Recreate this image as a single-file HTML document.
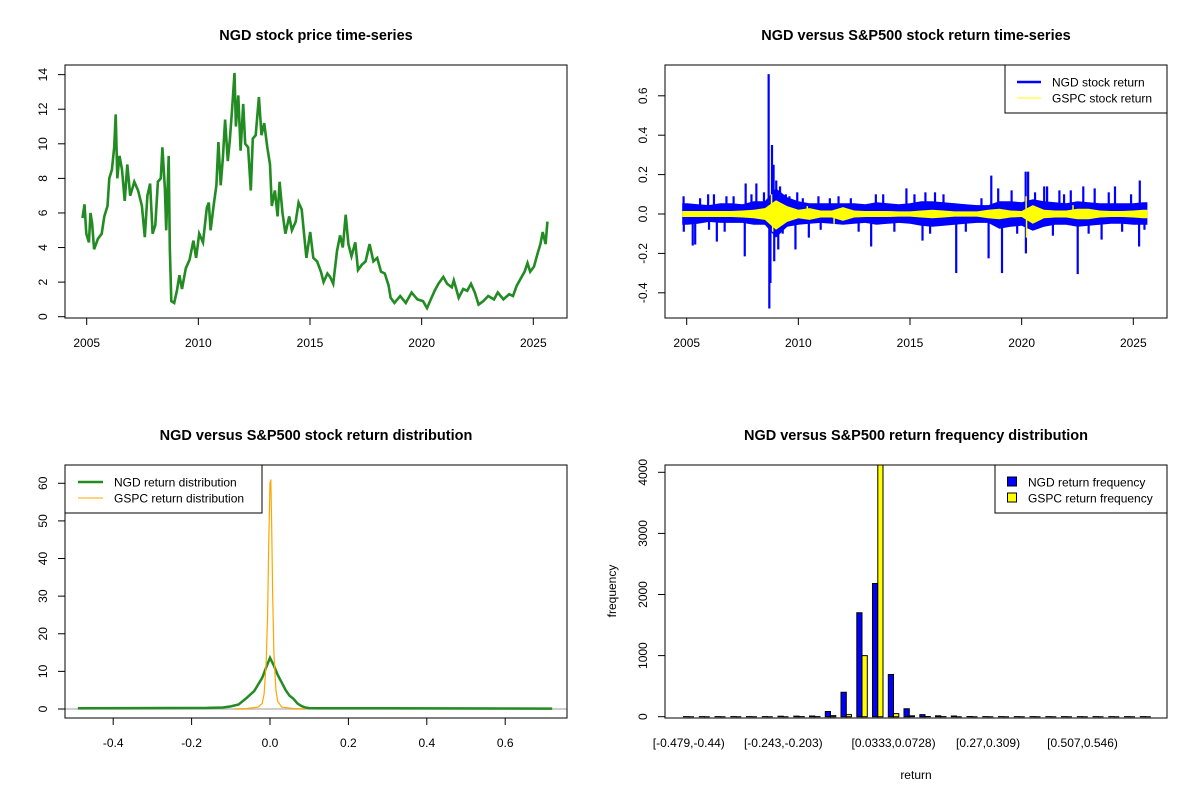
<!DOCTYPE html>
<html><head><meta charset="utf-8">
<style>
html,body{margin:0;padding:0;background:#fff;}
svg{display:block;font-family:"Liberation Sans",Arial,sans-serif;}
</style></head>
<body>
<svg id="chart" width="1200" height="800" viewBox="0 0 1200 800">
<rect x="0" y="0" width="1200" height="800" fill="#fff"/>
<defs>
<clipPath id="c1"><rect x="65" y="65" width="502" height="253"/></clipPath>
<clipPath id="c2"><rect x="665" y="65" width="502" height="253"/></clipPath>
<clipPath id="c3"><rect x="65" y="465" width="502" height="253"/></clipPath>
<clipPath id="c4"><rect x="665" y="465" width="502" height="253"/></clipPath>
</defs>
<g id="root"></g>
</svg>
<script>
// ---------- data ----------
const priceYears=[2004.81,2004.9,2004.98,2005.1,2005.17,2005.24,2005.33,2005.5,2005.67,2005.79,2005.93,2006.01,2006.13,2006.23,2006.3,2006.37,2006.47,2006.58,2006.7,2006.82,2006.95,2007.13,2007.3,2007.47,2007.6,2007.72,2007.84,2007.95,2008.07,2008.19,2008.32,2008.39,2008.5,2008.56,2008.67,2008.72,2008.79,2008.92,2009.04,2009.15,2009.27,2009.44,2009.61,2009.78,2009.9,2010.04,2010.21,2010.38,2010.47,2010.55,2010.69,2010.81,2010.9,2011.0,2011.1,2011.2,2011.32,2011.41,2011.51,2011.62,2011.68,2011.79,2011.89,2012.01,2012.1,2012.23,2012.35,2012.44,2012.57,2012.71,2012.83,2012.95,2013.09,2013.21,2013.29,2013.43,2013.55,2013.64,2013.77,2013.9,2014.07,2014.19,2014.36,2014.49,2014.63,2014.75,2014.84,2015.01,2015.15,2015.32,2015.49,2015.61,2015.78,2015.9,2016.04,2016.21,2016.35,2016.47,2016.6,2016.72,2016.86,2017.03,2017.15,2017.32,2017.49,2017.67,2017.84,2018.01,2018.18,2018.35,2018.52,2018.61,2018.78,2019.04,2019.29,2019.55,2019.81,2020.06,2020.24,2020.41,2020.58,2020.75,2020.97,2021.14,2021.35,2021.44,2021.66,2021.86,2022.04,2022.21,2022.38,2022.55,2022.76,2022.98,2023.24,2023.41,2023.66,2023.92,2024.09,2024.26,2024.43,2024.61,2024.74,2024.86,2025.03,2025.2,2025.32,2025.42,2025.55,2025.63];
const priceValues=[5.7,6.5,4.8,4.3,6.0,5.4,3.9,4.5,4.8,5.8,6.4,8.0,8.5,9.8,11.7,8.0,9.3,8.5,6.7,8.8,7.0,7.8,7.3,6.4,4.6,7.0,7.7,4.8,5.3,7.8,8.0,9.8,7.4,5.0,9.3,4.0,0.9,0.8,1.5,2.4,1.6,2.8,3.3,4.4,3.4,4.8,4.3,6.3,6.6,5.0,6.5,7.6,10.1,7.6,9.2,11.4,9.0,10.2,12.0,14.1,11.0,12.8,9.6,12.3,10.0,9.8,7.3,10.3,10.5,12.7,10.5,11.2,9.8,8.8,6.4,7.3,5.8,7.8,6.0,4.8,5.8,5.0,5.5,6.6,6.2,4.6,3.4,4.9,3.4,3.2,2.6,2.0,2.5,2.3,1.9,3.8,4.7,4.0,5.9,4.2,3.5,4.3,2.7,3.0,3.2,4.2,3.2,3.4,2.6,2.5,1.8,1.1,0.8,1.2,0.8,1.4,1.0,0.9,0.5,1.0,1.5,1.9,2.3,1.9,1.7,2.1,1.1,1.6,1.5,1.9,1.4,0.7,0.9,1.2,1.0,1.4,1.0,1.3,1.2,1.8,2.2,2.6,3.1,2.6,2.9,3.7,4.2,4.9,4.2,5.5];
const yearTicks=[2005,2010,2015,2020,2025];
const priceTicks=[0,2,4,6,8,10,12,14];

const retBucketStart=[2004.8,2005.25,2005.75,2006.25,2006.75,2007.25,2007.75,2008.25,2008.75,2009.25,2009.75,2010.25,2010.75,2011.25,2011.75,2012.25,2012.75,2013.25,2013.75,2014.25,2014.75,2015.25,2015.75,2016.25,2016.75,2017.25,2017.75,2018.25,2018.75,2019.25,2019.75,2020.25,2020.75,2021.25,2021.75,2022.25,2022.75,2023.25,2023.75,2024.25,2024.75,2025.25];
const retEnd=2025.63;
const ngdHi=[.055,.05,.045,.055,.055,.05,.065,.065,.13,.085,.065,.055,.055,.055,.055,.055,.05,.06,.055,.05,.055,.065,.065,.06,.055,.05,.045,.045,.065,.065,.06,.075,.065,.06,.055,.065,.06,.055,.055,.055,.055,.06];
const ngdLo=[-.055,-.05,-.04,-.045,-.045,-.045,-.055,-.055,-.12,-.065,-.055,-.05,-.045,-.05,-.055,-.05,-.045,-.055,-.05,-.045,-.05,-.06,-.065,-.06,-.055,-.05,-.045,-.045,-.075,-.065,-.06,-.085,-.065,-.055,-.055,-.065,-.06,-.055,-.05,-.05,-.055,-.055];
const gspcHi=[.015,.015,.015,.015,.015,.018,.022,.03,.07,.04,.022,.03,.018,.018,.035,.018,.015,.015,.015,.013,.013,.018,.022,.018,.013,.013,.013,.022,.027,.018,.015,.045,.022,.018,.018,.027,.027,.018,.015,.015,.018,.022];
const gspcLo=[-.015,-.015,-.015,-.015,-.015,-.018,-.022,-.03,-.08,-.04,-.022,-.03,-.018,-.018,-.035,-.018,-.015,-.015,-.015,-.013,-.013,-.018,-.022,-.018,-.013,-.013,-.013,-.022,-.027,-.018,-.015,-.05,-.022,-.018,-.018,-.027,-.027,-.018,-.015,-.015,-.018,-.022];
const ngdSpikeYears=[2004.86,2004.87,2005.27,2005.38,2005.96,2006.22,2006.35,2006.70,2006.78,2007.60,2007.64,2008.12,2008.46,2008.67,2008.70,2008.75,2008.82,2008.89,2008.92,2009.01,2009.10,2009.18,2009.44,2009.87,2009.95,2010.47,2010.90,2011.41,2012.35,2013.26,2013.47,2014.84,2015.56,2015.69,2016.12,2017.07,2018.52,2018.64,2018.95,2019.12,2019.55,2020.18,2020.19,2020.29,2021.01,2021.14,2021.69,2022.51,2022.76,2023.27,2023.58,2024.18,2025.26,2025.29,2005.6,2006.0,2007.1,2007.9,2009.3,2009.6,2010.2,2011.0,2011.8,2012.7,2013.8,2014.3,2015.2,2015.9,2016.5,2017.5,2018.2,2019.8,2020.6,2021.4,2021.9,2022.2,2023.0,2023.9,2024.5,2024.9,2025.5];
const ngdSpikeValues=[0.09,-0.09,-0.16,-0.155,0.1,0.1,-0.14,-0.09,0.09,-0.215,0.155,0.155,0.11,0.71,-0.48,-0.35,0.35,0.25,-0.24,0.17,-0.18,0.14,0.1,-0.18,0.11,-0.12,0.09,0.08,0.08,-0.165,0.1,0.13,-0.135,0.11,0.11,-0.3,-0.225,0.195,0.13,-0.3,0.12,0.215,-0.2,0.215,0.14,0.14,0.12,-0.305,0.14,0.13,-0.13,0.14,-0.165,0.17,0.08,-0.08,0.09,0.1,-0.1,0.09,0.08,-0.08,0.09,-0.09,0.1,-0.09,0.1,-0.1,0.1,-0.09,0.08,-0.1,0.11,-0.11,0.1,0.12,-0.1,0.11,-0.09,0.1,-0.08];
const gspcSpikeYears=[2008.8,2008.85,2009.0,2010.4,2011.6,2020.2,2020.22,2022.3];
const gspcSpikeValues=[0.1,-0.09,0.06,0.04,-0.05,0.09,-0.12,0.045];
const retTicks=[-0.4,-0.2,0.0,0.2,0.4,0.6];
const retTickLabels=["-0.4","-0.2","0.0","0.2","0.4","0.6"];

const ngdDensX=[-0.49,-0.16,-0.12,-0.1,-0.08,-0.06,-0.04,-0.02,-0.01,0,0.01,0.02,0.03,0.04,0.05,0.06,0.07,0.08,0.09,0.1,0.14,0.72];
const ngdDensY=[0.2,0.3,0.4,0.7,1.2,2.9,4.8,8.3,11,13.6,11.5,9,7,5,3.5,2.7,1.5,0.8,0.4,0.25,0.2,0.1];
const gspcDensX=[-0.09,-0.06,-0.03,-0.02,-0.015,-0.01,-0.006,-0.003,0,0.002,0.004,0.007,0.01,0.015,0.02,0.03,0.06,0.09];
const gspcDensY=[0,0.1,0.5,1.5,4,12,25,45,60,61,50,30,15,5,2,0.5,0.1,0];
const densXTicks=[-0.4,-0.2,0.0,0.2,0.4,0.6];
const densXTickLabels=["-0.4","-0.2","0.0","0.2","0.4","0.6"];
const densYTicks=[0,10,20,30,40,50,60];

const binLabels=["[-0.479,-0.44)","[-0.243,-0.203)","[0.0333,0.0728)","[0.27,0.309)","[0.507,0.546)"];
const binLabelIndex=[0,6,13,19,25];
const ngdFreq=[1,1,1,1,1,2,8,10,12,85,400,1700,2180,690,130,35,15,12,3,2,1,1,1,1,1,1,1,1,1,1];
const gspcFreq=[0,0,0,0,0,0,0,1,2,18,35,1000,4130,50,15,3,1,0,0,0,0,0,0,0,0,0,0,0,0,0];
const freqTicks=[0,1000,2000,3000,4000];

// ---------- scales ----------
const yearX=(y,l)=>l+21.7+(y-2005)*22.33;
const priceY=v=>316.7-v*17.29;
const retY=v=>214-v*197;
const densX=v=>270+v*392;
const densY=v=>709-v*3.762;
const barX=u=>688.8+(u-2)*5.25;
const barY=c=>716.7-c*0.0611;

const NS="http://www.w3.org/2000/svg";
const root=document.getElementById('root');
function mk(tag,attrs,parent){const e=document.createElementNS(NS,tag);for(const k in attrs)e.setAttribute(k,attrs[k]);(parent||root).appendChild(e);return e;}
function txt(s,x,y,size,anchor,parent,rot,bold){const e=mk('text',{x:x,y:y,'font-size':size,'text-anchor':anchor||'middle',fill:'#000'},parent);if(bold)e.setAttribute('font-weight','bold');if(rot)e.setAttribute('transform','rotate(-90 '+x+' '+y+')');e.textContent=s;return e;}

const panels=[{l:65,r:567,t:65,b:318},{l:665,r:1167,t:65,b:318},{l:65,r:567,t:465,b:718},{l:665,r:1167,t:465,b:718}];
const titles=["NGD stock price time-series","NGD versus S&P500 stock return time-series","NGD versus S&P500 stock return distribution","NGD versus S&P500 return frequency distribution"];
const gs=[];
panels.forEach((p,i)=>{
  const g=mk('g',{});
  
  
  gs.push(g);
  const t=txt(titles[i],(p.l+p.r)/2,p.t-25,14.5,'middle',g,false,true);
  
  
});

function xAxis(g,p,vals,labels,fx){
  const a=mk('g',{},g);
  
  
  const x0=fx(vals[0]),x1=fx(vals[vals.length-1]);
  mk('line',{x1:x0,x2:x1,y1:p.b,y2:p.b,stroke:'#000','stroke-width':1},a);
  vals.forEach((v,i)=>{const x=fx(v);
    mk('line',{x1:x,x2:x,y1:p.b,y2:p.b+7,stroke:'#000'},a);
    const t=txt(labels[i],x,p.b+29,12,'middle',a);
    
    
  });
}
function yAxis(g,p,vals,labels,fy){
  const a=mk('g',{},g);
  
  
  const y0=fy(vals[0]),y1=fy(vals[vals.length-1]);
  mk('line',{x1:p.l,x2:p.l,y1:y0,y2:y1,stroke:'#000'},a);
  vals.forEach((v,i)=>{const y=fy(v);
    mk('line',{x1:p.l-7,x2:p.l,y1:y,y2:y,stroke:'#000'},a);
    const t=txt(labels[i],p.l-18,y,12,'middle',a,true);
    
    
  });
}
function box(g,p){const b=mk('rect',{x:p.l,y:p.t,width:p.r-p.l,height:p.b-p.t,fill:'none',stroke:'#000','stroke-width':1},g);
  
  }

// ---------- panel 1: price ----------
{const g=gs[0],p=panels[0];
 const pts=priceYears.map((y,i)=>yearX(y,p.l).toFixed(1)+','+priceY(priceValues[i]).toFixed(1)).join(' ');
 const l=mk('polyline',{points:pts,fill:'none',stroke:'#228B22','stroke-width':2.6,'stroke-linejoin':'miter','clip-path':'url(#c1)'},g);
 
 
 xAxis(g,p,yearTicks,yearTicks.map(String),y=>yearX(y,p.l));
 yAxis(g,p,priceTicks,priceTicks.map(String),priceY);
 box(g,p);}

// ---------- panel 2: returns ----------
{const g=gs[1],p=panels[1];
 const cg=mk('g',{'clip-path':'url(#c2)'},g);
 function band(hi,lo,col,name){
   const mids=retBucketStart.map((s,i)=>{const e=i+1<retBucketStart.length?retBucketStart[i+1]:retEnd;return (s+e)/2;});
   const top=[],bot=[];
   top.push(yearX(retBucketStart[0],p.l).toFixed(1)+','+retY(hi[0]).toFixed(1));
   mids.forEach((m,i)=>top.push(yearX(m,p.l).toFixed(1)+','+retY(hi[i]).toFixed(1)));
   top.push(yearX(retEnd,p.l).toFixed(1)+','+retY(hi[hi.length-1]).toFixed(1));
   bot.push(yearX(retEnd,p.l).toFixed(1)+','+retY(lo[lo.length-1]).toFixed(1));
   for(let i=mids.length-1;i>=0;i--)bot.push(yearX(mids[i],p.l).toFixed(1)+','+retY(lo[i]).toFixed(1));
   bot.push(yearX(retBucketStart[0],p.l).toFixed(1)+','+retY(lo[0]).toFixed(1));
   const r=mk('polygon',{points:top.concat(bot).join(' '),fill:col},cg);
   
   
 }
 function spikes(ys,vs,col,w,name){
   ys.forEach((y,i)=>{const x=yearX(y,p.l);
     const s=mk('line',{x1:x,x2:x,y1:retY(0),y2:retY(vs[i]),stroke:col,'stroke-width':w},cg);
     
     });
 }
 band(ngdHi,ngdLo,'#0000FF','ngd-return-band');
 spikes(ngdSpikeYears,ngdSpikeValues,'#0000FF',2.2,'ngd-return-spike');
 band(gspcHi,gspcLo,'#FFFF00','gspc-return-band');
 spikes(gspcSpikeYears,gspcSpikeValues,'#FFFF00',1.5,'gspc-return-spike');
 xAxis(g,p,yearTicks,yearTicks.map(String),y=>yearX(y,p.l));
 yAxis(g,p,retTicks,retTickLabels,retY);
 box(g,p);
 const lg=mk('g',{},g);
 
 
 mk('rect',{x:1005,y:65,width:162,height:48,fill:'#fff',stroke:'#000'},lg);
 mk('line',{x1:1017,x2:1041,y1:82,y2:82,stroke:'#0000FF','stroke-width':2.5},lg);
 mk('line',{x1:1017,x2:1041,y1:98,y2:98,stroke:'#FFFF00','stroke-width':1},lg);
 const t1=txt('NGD stock return',1052,86.5,12,'start',lg);
 
 
 const t2=txt('GSPC stock return',1052,102.5,12,'start',lg);
 
 }

// ---------- panel 3: density ----------
{const g=gs[2],p=panels[2];
 const cg=mk('g',{'clip-path':'url(#c3)'},g);
 const ab=mk('line',{x1:p.l,x2:p.r,y1:densY(0),y2:densY(0),stroke:'#bebebe','stroke-width':1.5},cg);
 
 
 const p1=mk('polyline',{points:ngdDensX.map((x,i)=>densX(x).toFixed(1)+','+densY(ngdDensY[i]).toFixed(1)).join(' '),fill:'none',stroke:'#228B22','stroke-width':2.5},cg);
 
 
 const p2=mk('polyline',{points:gspcDensX.map((x,i)=>densX(x).toFixed(1)+','+densY(gspcDensY[i]).toFixed(1)).join(' '),fill:'none',stroke:'#FFA500','stroke-width':1.2},cg);
 
 
 xAxis(g,p,densXTicks,densXTickLabels,densX);
 yAxis(g,p,densYTicks,densYTicks.map(String),densY);
 box(g,p);
 const lg=mk('g',{},g);
 
 
 mk('rect',{x:65,y:465,width:197,height:48,fill:'#fff',stroke:'#000'},lg);
 mk('line',{x1:78,x2:103,y1:482,y2:482,stroke:'#228B22','stroke-width':2.5},lg);
 mk('line',{x1:78,x2:103,y1:498,y2:498,stroke:'#FFA500','stroke-width':1},lg);
 const t1=txt('NGD return distribution',114,486.5,12,'start',lg);
 
 
 const t2=txt('GSPC return distribution',114,502.5,12,'start',lg);
 
 }

// ---------- panel 4: histogram ----------
{const g=gs[3],p=panels[3];
 const cg=mk('g',{'clip-path':'url(#c4)'},g);
 function bar(u,c,col,name){
   const x0=barX(u),x1=barX(u+1),y0=barY(0),y1=barY(c);
   const b=mk('path',{d:'M'+x0.toFixed(1)+' '+y0.toFixed(1)+'V'+y1.toFixed(1)+'H'+x1.toFixed(1)+'V'+y0.toFixed(1)+'Z',fill:col,stroke:'#000','stroke-width':1},cg);
   
   
 }
 ngdFreq.forEach((c,i)=>{bar(3*i+1,c,'#0000FF','bar-ngd');});
 gspcFreq.forEach((c,i)=>{bar(3*i+2,c,'#FFFF00','bar-gspc');});
 yAxis(g,p,freqTicks,freqTicks.map(String),barY);
 binLabels.forEach((s,k)=>{const t=txt(s,barX(3*binLabelIndex[k]+2),747,12,'middle',g);
   
   });
 box(g,p);
 const xl=txt('return',916,779,12,'middle',g);
 
 
 const yl=txt('frequency',616,591,12,'middle',g,true);
 
 
 const lg=mk('g',{},g);
 
 
 mk('rect',{x:995,y:465,width:172,height:48,fill:'#fff',stroke:'#000'},lg);
 mk('rect',{x:1007.5,y:477,width:9,height:9,fill:'#0000FF',stroke:'#000'},lg);
 mk('rect',{x:1007.5,y:493,width:9,height:9,fill:'#FFFF00',stroke:'#000'},lg);
 const t1=txt('NGD return frequency',1028,486.5,12,'start',lg);
 
 
 const t2=txt('GSPC return frequency',1028,502.5,12,'start',lg);
 
 }
</script>
</body></html>
